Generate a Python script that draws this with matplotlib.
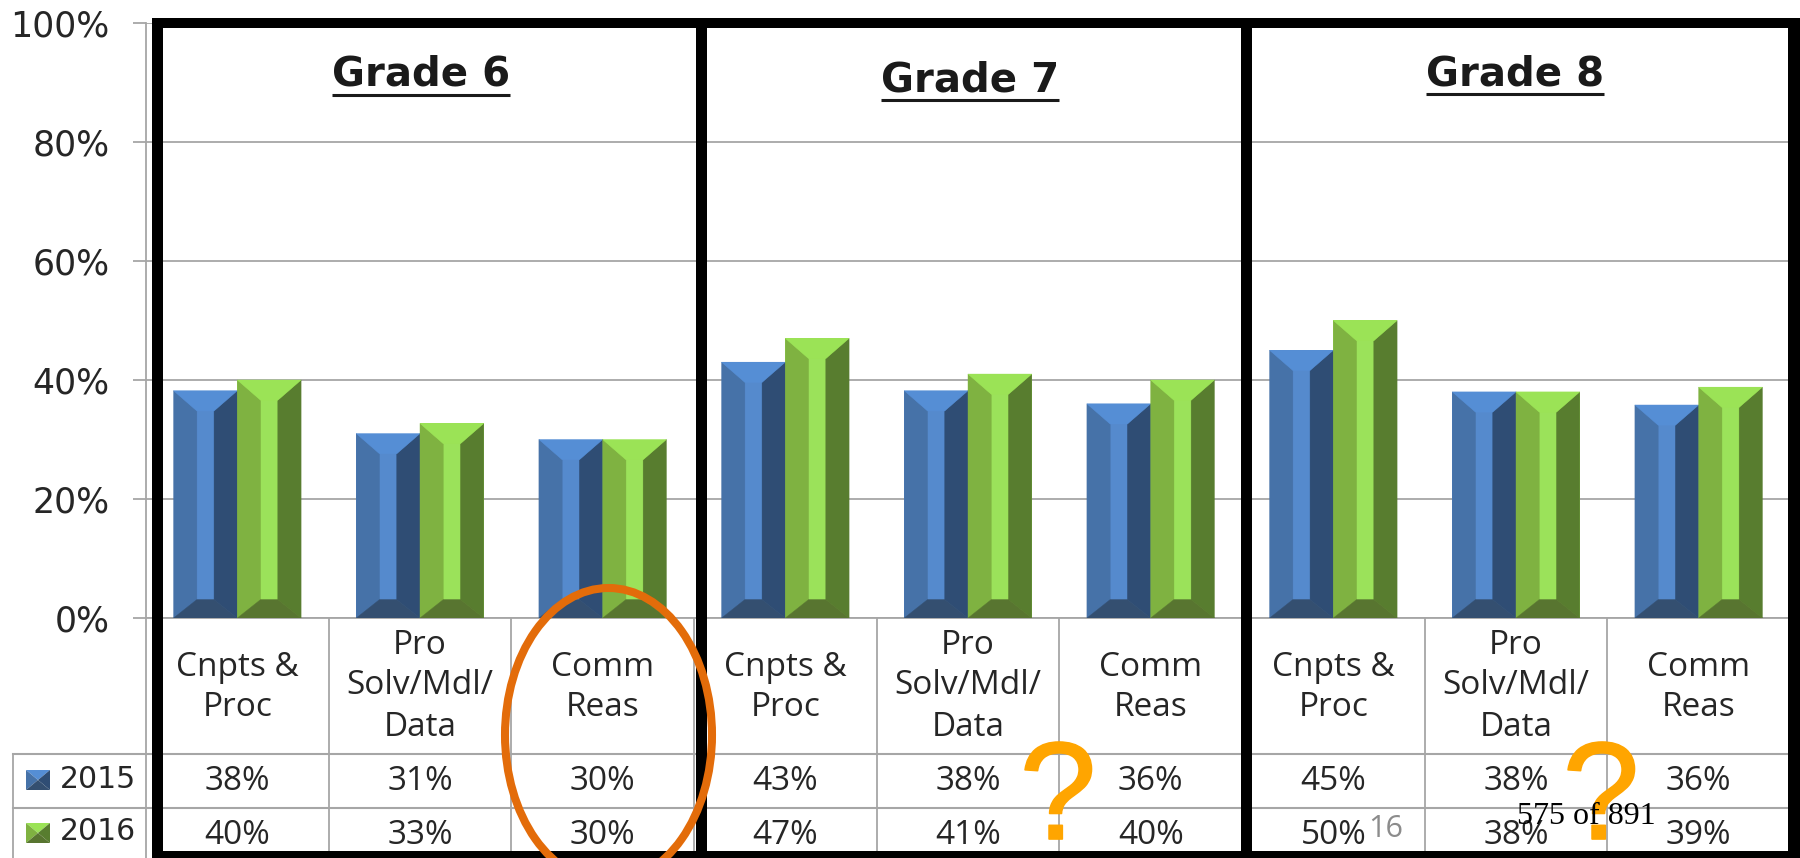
import matplotlib
matplotlib.use("Agg")
import matplotlib.pyplot as plt
import matplotlib.patheffects as pe
from matplotlib.patches import Ellipse, Rectangle, Polygon

W, H = 1800, 858
categories = ["Cnpts &\nProc", "Pro\nSolv/Mdl/\nData", "Comm\nReas"] * 3
grades = ["Grade 6", "Grade 7", "Grade 8"]
series_names = ["2015", "2016"]
values_2015 = [38.2, 31.0, 30.0, 43.0, 38.2, 36.0, 45.0, 38.0, 35.8]
values_2016 = [40.0, 32.7, 30.0, 47.0, 41.0, 40.0, 50.0, 38.0, 38.8]
yticks = [0, 20, 40, 60, 80, 100]

BLUE = dict(top="#558ED5", left="#4672A8", right="#2F4D74", bottom="#344F70", mid="#558ACD")
GREEN = dict(top="#9BE356", left="#7FB241", right="#587D2F", bottom="#587530", mid="#9BE25A")
GRID = "#A6A6A6"
TXT = "#262626"
ORANGE = "#E36C0A"
QMARK = "#FFA500"
BODY = "Open Sans"

fig = plt.figure(figsize=(W / 100, H / 100), dpi=100, facecolor="white")
ax = fig.add_axes([146 / W, (H - 618) / H, (1790 - 146) / W, (618 - 23) / H])
ax.set_xlim(-0.5, 8.5)
ax.set_ylim(0, 100)
ax.set_yticks(yticks)
ax.set_yticklabels([f"{v}%" for v in yticks], fontsize=25, color=TXT, family="DejaVu Sans")
ax.set_xticks([])
ax.tick_params(axis="y", length=9.4, width=1.3, color=GRID, pad=17)
ax.grid(axis="y", color=GRID, lw=1.3)
ax.set_axisbelow(True)
for s in ("top", "right"):
    ax.spines[s].set_visible(False)
for s in ("left", "bottom"):
    ax.spines[s].set_color(GRID)
    ax.spines[s].set_linewidth(1.3)

BAR_W = 0.349
BEVEL_X = 0.365 * BAR_W
BEVEL_TOP = 3.4
BEVEL_BOT = 3.1


def bevel_bar(xc, v, c):
    x0, x1 = xc - BAR_W / 2, xc + BAR_W / 2
    ax.bar(xc, v, BAR_W, color=c["mid"], zorder=3)
    a, b = x0 + BEVEL_X, x1 - BEVEL_X
    t, u = v - BEVEL_TOP, BEVEL_BOT
    faces = [
        ([x0, a, a, x0], [0, u, t, v], c["left"]),
        ([x1, b, b, x1], [0, u, t, v], c["right"]),
        ([x0, x1, b, a], [v, v, t, t], c["top"]),
        ([x0, x1, b, a], [0, 0, u, u], c["bottom"]),
    ]
    for xs, ys, col in faces:
        ax.fill(xs, ys, color=col, lw=0.3, zorder=4)


for i, (a, b) in enumerate(zip(values_2015, values_2016)):
    bevel_bar(i - BAR_W / 2, a, BLUE)
    bevel_bar(i + BAR_W / 2, b, GREEN)

# overlay in pixel coordinates for the data table and annotations
ov = fig.add_axes([0, 0, 1, 1], zorder=5)
ov.set_xlim(0, W)
ov.set_ylim(H, 0)
ov.axis("off")
ov.patch.set_alpha(0)


def col_x(i):
    """pixel x for data position i"""
    return ax.transData.transform((i, 0))[0]


R1, R2 = 754, 808
for i in range(10):
    ov.plot([col_x(i - 0.5)] * 2, [618, H], color=GRID, lw=1.3, zorder=1)
ov.plot([13, col_x(8.5)], [R1, R1], color=GRID, lw=1.5, zorder=1)
ov.plot([13, col_x(8.5)], [R2, R2], color=GRID, lw=1.5, zorder=1)
ov.plot([13, 13], [R1, H], color=GRID, lw=1.3, zorder=1)

FS = 24
CAT_Y = {2: [667, 707], 3: [645, 686, 728]}
for i, cat in enumerate(categories):
    lines = cat.split("\n")
    for ln, y in zip(lines, CAT_Y[len(lines)]):
        ov.text(col_x(i), y, ln, ha="center", va="center", fontsize=FS, color=TXT, family=BODY, zorder=2)
    ov.text(col_x(i), 782, f"{values_2015[i]:.0f}%", ha="center", va="center", fontsize=FS, color=TXT, family=BODY, zorder=2)
    ov.text(col_x(i), 835, f"{values_2016[i]:.0f}%", ha="center", va="center", fontsize=FS, color=TXT, family=BODY, zorder=2)

for name, y, c in zip(series_names, (780, 833), (BLUE, GREEN)):
    x0, x1, y0, y1 = 26, 50, y - 10, y + 10
    xm, ym = (x0 + x1) / 2, (y0 + y1) / 2
    ov.add_patch(Polygon([(x0, y0), (x1, y0), (xm, ym)], color=c["top"], lw=0, zorder=2))
    ov.add_patch(Polygon([(x0, y0), (x0, y1), (xm, ym)], color=c["left"], lw=0, zorder=2))
    ov.add_patch(Polygon([(x1, y0), (x1, y1), (xm, ym)], color=c["right"], lw=0, zorder=2))
    ov.add_patch(Polygon([(x0, y1), (x1, y1), (xm, ym)], color=c["bottom"], lw=0, zorder=2))
    ov.text(60, y - 1, name, ha="left", va="center", fontsize=21.5, color=TXT, family="DejaVu Sans", zorder=2)

# heavy black frame
BK = dict(color="black", lw=0, zorder=3)
ov.add_patch(Rectangle((152, 18), W - 152, 10, **BK))
ov.add_patch(Rectangle((152, 851), W - 152, 7, **BK))
for x0, x1 in [(152, 163), (696, 707), (1241, 1252), (1788, W)]:
    ov.add_patch(Rectangle((x0, 18), x1 - x0, H - 18, **BK))

# panel titles, underlined
titles = []
for name, xc, yc in zip(grades, (421, 970, 1515), (75, 80, 74)):
    titles.append(ov.text(xc, yc, name, ha="center", va="center", fontsize=29, fontweight="bold",
                          family="DejaVu Sans", color="#1a1a1a", zorder=4))
fig.canvas.draw()
inv = ov.transData.inverted()
for t in titles:
    bb = t.get_window_extent()
    (xa, ya), (xb, yb) = inv.transform((bb.x0, bb.y0)), inv.transform((bb.x1, bb.y0))
    ov.plot([xa, xb], [ya, yb], color="#1a1a1a", lw=2.2, zorder=4, solid_capstyle="butt")

# annotations
ov.add_patch(Ellipse((608.5, 735), 207, 294, fill=False, ec=ORANGE, lw=5.8, zorder=6))
for xc in (1058, 1601):
    ov.text(xc, 803, "?", ha="center", va="center", fontsize=100, color=QMARK, family="Liberation Sans", zorder=5,
            path_effects=[pe.withStroke(linewidth=1.2, foreground=QMARK)])
ov.text(1386, 829, "16", ha="center", va="center", fontsize=22, color="#8c8c8c", family=BODY, zorder=6)
ov.text(1586, 817, "575 of 891", ha="center", va="center", fontsize=23, color="black", family="Liberation Serif", zorder=7)

fig.savefig("out.png", dpi=100)
